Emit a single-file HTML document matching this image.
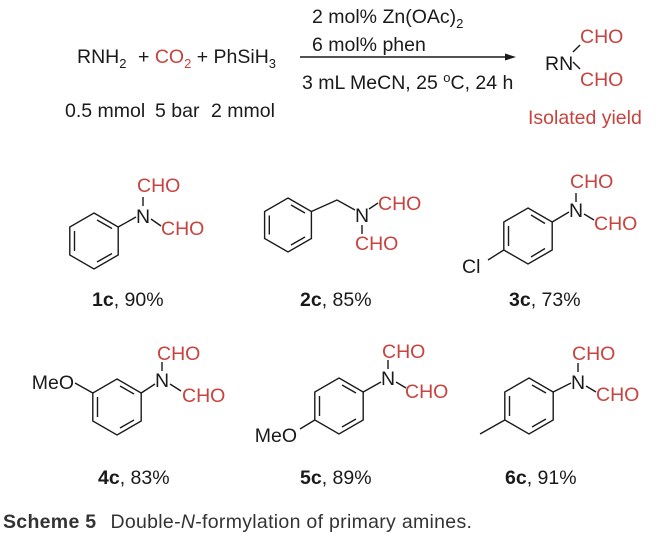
<!DOCTYPE html>
<html><head><meta charset="utf-8"><style>
html,body{margin:0;padding:0;background:#fff}
svg{display:block}
text{font-family:"Liberation Sans",Arial,sans-serif;font-size:19.5px;fill:#1a1a1a}
.r{fill:#c8433f}
line,polyline,polygon{stroke:#1a1a1a;stroke-width:1.4;fill:none}
</style></head><body>
<svg width="672" height="536" viewBox="0 0 672 536" xmlns="http://www.w3.org/2000/svg">
<!-- reaction -->
<text x="77" y="63">RNH<tspan font-size="13" dy="5">2</tspan></text>
<text x="138" y="63">+ <tspan style="fill:#c8433f">CO</tspan><tspan font-size="13" dy="5" style="fill:#c8433f">2</tspan><tspan dy="-5"> + PhSiH</tspan><tspan font-size="13" dy="5">3</tspan></text>
<text x="65" y="117">0.5 mmol</text>
<text x="155" y="117">5 bar</text>
<text x="211" y="117">2 mmol</text>
<text x="312" y="23">2 mol% Zn(OAc)<tspan font-size="13" dy="5">2</tspan></text>
<text x="312" y="51">6 mol% phen</text>
<line x1="300" y1="57" x2="508" y2="57"/>
<polygon points="516,57 505,53.5 505,60.5" style="fill:#1a1a1a;stroke:none"/>
<text x="302" y="89">3 mL MeCN, 25 <tspan font-size="13" dy="-7">o</tspan><tspan dy="7">C, 24 h</tspan></text>
<text x="545" y="70">RN</text>
<line x1="573" y1="52" x2="580" y2="45"/>
<line x1="573" y1="62" x2="580" y2="69"/>
<text class="r" x="580" y="43">CHO</text>
<text class="r" x="580" y="86">CHO</text>
<text class="r" x="528" y="124">Isolated yield</text>

<!-- 1c -->
<polygon points="94,213 118.2,227 118.2,255 94,269 69.8,255 69.8,227"/>
<line x1="74.5" y1="231" x2="74.5" y2="251"/>
<line x1="97" y1="220" x2="112" y2="228.5"/>
<line x1="112" y1="253.5" x2="97" y2="262"/>
<line x1="118.2" y1="227" x2="136" y2="217"/>
<text x="143" y="223" text-anchor="middle">N</text>
<line x1="143" y1="197" x2="143" y2="206"/>
<line x1="151" y1="219" x2="161" y2="226"/>
<text class="r" x="137" y="192">CHO</text>
<text class="r" x="161" y="235">CHO</text>
<text x="92" y="306"><tspan font-weight="bold">1c</tspan>, 90%</text>

<!-- 2c -->
<polygon points="288,198 311.4,211.5 311.4,238.5 288,252 264.6,238.5 264.6,211.5"/>
<line x1="269.3" y1="215.5" x2="269.3" y2="234.5"/>
<line x1="291" y1="205" x2="305" y2="213"/>
<line x1="305" y1="237" x2="291" y2="245"/>
<polyline points="311.4,211.5 337,200 355,210"/>
<text x="362" y="222" text-anchor="middle">N</text>
<line x1="369" y1="209" x2="378" y2="203"/>
<line x1="362" y1="225" x2="362" y2="234"/>
<text class="r" x="378" y="210">CHO</text>
<text class="r" x="355" y="250">CHO</text>
<text x="300" y="306"><tspan font-weight="bold">2c</tspan>, 85%</text>

<!-- 3c -->
<polygon points="528,208 552.2,222 552.2,250 528,264 503.8,250 503.8,222"/>
<line x1="508.5" y1="226" x2="508.5" y2="246"/>
<line x1="531" y1="215" x2="545" y2="223.5"/>
<line x1="545" y1="248.5" x2="531" y2="257"/>
<line x1="552.2" y1="222" x2="569" y2="212"/>
<line x1="503.8" y1="250" x2="488" y2="260"/>
<text x="462" y="273">Cl</text>
<text x="576" y="217" text-anchor="middle">N</text>
<line x1="576" y1="193" x2="576" y2="202"/>
<line x1="584" y1="214" x2="594" y2="220"/>
<text class="r" x="570" y="188">CHO</text>
<text class="r" x="594" y="230">CHO</text>
<text x="509" y="306"><tspan font-weight="bold">3c</tspan>, 73%</text>

<!-- 4c -->
<polygon points="117,379 141.2,393 141.2,421 117,435 92.8,421 92.8,393"/>
<line x1="97.5" y1="397" x2="97.5" y2="417"/>
<line x1="120" y1="386" x2="134" y2="394"/>
<line x1="134" y1="420" x2="120" y2="428"/>
<line x1="141.2" y1="393" x2="155" y2="384"/>
<line x1="92.8" y1="393" x2="75" y2="383"/>
<text x="74" y="389" text-anchor="end">MeO</text>
<text x="162" y="387" text-anchor="middle">N</text>
<line x1="162" y1="362" x2="162" y2="371"/>
<line x1="170" y1="384" x2="181" y2="391"/>
<text class="r" x="157" y="360">CHO</text>
<text class="r" x="182" y="402">CHO</text>
<text x="98" y="484"><tspan font-weight="bold">4c</tspan>, 83%</text>

<!-- 5c -->
<polygon points="339,378 363.2,392 363.2,420 339,434 314.8,420 314.8,392"/>
<line x1="319.5" y1="396" x2="319.5" y2="416"/>
<line x1="342" y1="385" x2="356" y2="393"/>
<line x1="356" y1="419" x2="342" y2="427"/>
<line x1="363.2" y1="392" x2="381" y2="382"/>
<line x1="314.8" y1="420" x2="300" y2="429"/>
<text x="297" y="442" text-anchor="end">MeO</text>
<text x="388" y="385" text-anchor="middle">N</text>
<line x1="388" y1="360" x2="388" y2="369"/>
<line x1="396" y1="382" x2="406" y2="388"/>
<text class="r" x="382" y="358">CHO</text>
<text class="r" x="405" y="398">CHO</text>
<text x="300" y="484"><tspan font-weight="bold">5c</tspan>, 89%</text>

<!-- 6c -->
<polygon points="529,378 553.2,392 553.2,420 529,434 504.8,420 504.8,392"/>
<line x1="509.5" y1="396" x2="509.5" y2="416"/>
<line x1="532" y1="385" x2="546" y2="393"/>
<line x1="546" y1="419" x2="532" y2="427"/>
<line x1="553.2" y1="392" x2="571" y2="383"/>
<line x1="504.8" y1="420" x2="480" y2="434"/>
<text x="578" y="389" text-anchor="middle">N</text>
<line x1="578" y1="363" x2="578" y2="372"/>
<line x1="586" y1="386" x2="596" y2="392"/>
<text class="r" x="572" y="360">CHO</text>
<text class="r" x="596" y="401">CHO</text>
<text x="505" y="484"><tspan font-weight="bold">6c</tspan>, 91%</text>

<!-- caption -->
<text x="3" y="528" style="font-size:19.5px;fill:#333;letter-spacing:0.3px"><tspan font-weight="bold">Scheme 5</tspan><tspan dx="14">Double-</tspan><tspan font-style="italic">N</tspan>-formylation of primary amines.</text>
</svg>
</body></html>
